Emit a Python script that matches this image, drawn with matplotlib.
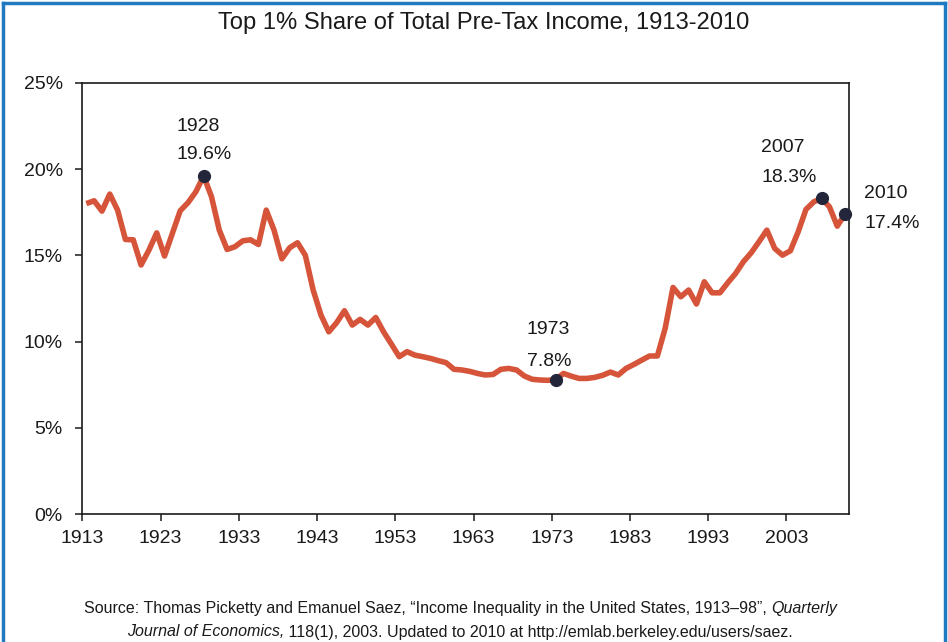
import matplotlib
matplotlib.use("Agg")
import matplotlib.pyplot as plt
from matplotlib.lines import Line2D
import numpy as np

plt.rcParams['font.family'] = ['Liberation Sans', 'DejaVu Sans']

years = list(range(1913, 2011))
share = [
    18.0, 18.16, 17.56, 18.55, 17.62, 15.92, 15.9, 14.44, 15.3, 16.3,      # 1913-1922
    14.96, 16.27, 17.58, 18.05, 18.68, 19.6, 18.4, 16.46, 15.34, 15.5,     # 1923-1932
    15.84, 15.9, 15.63, 17.62, 16.46, 14.8, 15.44, 15.73, 15.0, 12.99,     # 1933-1942
    11.54, 10.57, 11.1, 11.79, 10.96, 11.29, 10.96, 11.4, 10.57, 9.86,     # 1943-1952
    9.13, 9.42, 9.22, 9.13, 9.03, 8.9, 8.78, 8.4, 8.36, 8.28,              # 1953-1962
    8.16, 8.07, 8.1, 8.4, 8.45, 8.36, 8.01, 7.82, 7.78, 7.76,              # 1963-1972
    7.8, 8.16, 8.0, 7.87, 7.87, 7.93, 8.05, 8.24, 8.07, 8.45,              # 1973-1982
    8.68, 8.93, 9.17, 9.17, 10.77, 13.14, 12.6, 12.99, 12.18, 13.47,       # 1983-1992
    12.83, 12.83, 13.41, 13.95, 14.63, 15.15, 15.79, 16.46, 15.4, 15.01,   # 1993-2002
    15.26, 16.36, 17.66, 18.1, 18.3, 17.81, 16.69, 17.4,                   # 2003-2010
]
highlight_years = [1928, 1973, 2007, 2010]
tick_years = [1913, 1923, 1933, 1943, 1953, 1963, 1973, 1983, 1993, 2003]
y_ticks = [0, 5, 10, 15, 20, 25]
title = "Top 1% Share of Total Pre-Tax Income, 1913-2010"

W, H = 948, 642
fig = plt.figure(figsize=(W / 100, H / 100), dpi=100)
ax = fig.add_axes([82.4 / W, 1 - 514.3 / H, (849 - 82.4) / W, (514.3 - 82.7) / H])

line_color = "#d6553a"
dot_color = "#23263a"
ax.plot(years, share, color=line_color, lw=4.0, solid_joinstyle="round", solid_capstyle="butt", zorder=2)

hv = [share[years.index(y)] for y in highlight_years]
ax.plot(highlight_years, hv, "o", color=dot_color, ms=8.5, zorder=3, clip_on=False)

ax.set_xlim(1912.5, 2010.5)
ax.set_ylim(0, 25)
ax.set_xticks([y - 0.5 for y in tick_years])
ax.set_xticklabels([str(y) for y in tick_years])
ax.set_yticks(y_ticks)
ax.set_yticklabels([f"{v}%" for v in y_ticks])
ax.tick_params(axis="both", direction="out", length=5, width=1.1, labelsize=14, colors="#1a1a1a")
ax.tick_params(axis="x", pad=6.5)
ax.tick_params(axis="y", pad=9)
for s in ax.spines.values():
    s.set_linewidth(1.2)
    s.set_color("#1a1a1a")

# annotations (offsets in pixels from the marker)
offsets = {
    1928: (-27, 49, -27, 21),
    1973: (-29, 50, -29, 18),
    2007: (-61, 51, -60, 21),
    2010: (19, 20, 19, -10),
}
for yr, v in zip(highlight_years, hv):
    dx1, dy1, dx2, dy2 = offsets[yr]
    ax.annotate(str(yr), xy=(yr, v), xytext=(dx1, dy1), textcoords="offset pixels",
                ha="left", va="center", fontsize=14, color="#1a1a1a", annotation_clip=False)
    ax.annotate(f"{v:.1f}%", xy=(yr, v), xytext=(dx2, dy2), textcoords="offset pixels",
                ha="left", va="center", fontsize=14, color="#1a1a1a", annotation_clip=False)

fig.text(484 / W, 1 - 23 / H, title, ha="center", va="center", fontsize=17.1, color="#1a1a1a")

# source note with mixed italic segments
def draw_segments(segments, ycenter_px, xcenter_px, fs=11.5):
    renderer = fig.canvas.get_renderer()
    texts = []
    widths = []
    for s, style in segments:
        t = fig.text(0, 1 - ycenter_px / H, s, fontsize=fs, style=style, va="center", ha="left", color="#1a1a1a")
        bb = t.get_window_extent(renderer=renderer)
        texts.append(t)
        widths.append(bb.width)
    total = sum(widths)
    x = xcenter_px - total / 2
    for t, w in zip(texts, widths):
        t.set_x(x / W)
        x += w

draw_segments([("Source: Thomas Picketty and Emanuel Saez, \u201cIncome Inequality in the United States, 1913\u201398\u201d, ", "normal"),
               ("Quarterly", "italic")], 608, 461)
draw_segments([("Journal of Economics,", "italic"),
               (" 118(1), 2003. Updated to 2010 at http://emlab.berkeley.edu/users/saez.", "normal")], 632, 460)

border = "#1f7ac2"
fig.add_artist(Line2D([3 / W, 3 / W], [0, 1 - 3 / H], color=border, lw=2.5))
fig.add_artist(Line2D([3 / W, 945 / W], [1 - 3 / H, 1 - 3 / H], color=border, lw=2.5))
fig.add_artist(Line2D([945 / W, 945 / W], [0, 1 - 3 / H], color=border, lw=2.5))

fig.savefig("out.png", dpi=100)
